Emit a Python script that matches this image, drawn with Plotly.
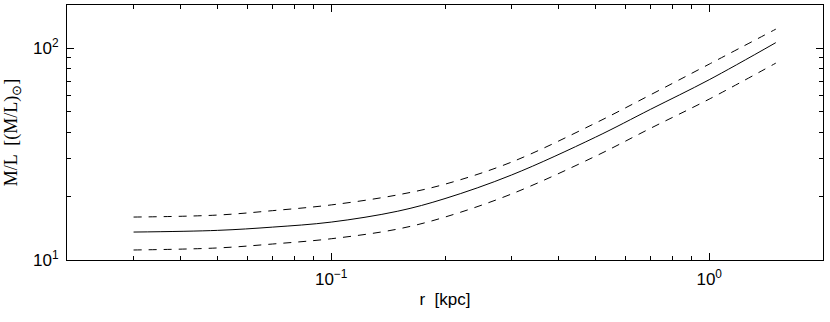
import plotly.graph_objects as go

# radius in kpc and M/L profile
r_kpc = [0.03, 0.05, 0.07, 0.1, 0.15, 0.2, 0.3, 0.5, 0.7, 1.0, 1.5]
ml_mid = [13.55, 13.8, 14.3, 15.1, 17.0, 19.5, 25.2, 38.0, 51.5, 71.0, 106.2]
ml_upper = [15.95, 16.3, 17.1, 18.2, 20.3, 22.8, 29.0, 44.3, 60.3, 84.1, 123.0]
ml_lower = [11.15, 11.4, 11.9, 12.6, 14.0, 15.95, 20.5, 30.9, 41.9, 57.5, 85.0]

x_tickvals = [0.1, 1]
x_ticktext = ["10<sup>−1</sup>", "10<sup>0</sup>"]
y_tickvals = [10, 100]
y_ticktext = ["10<sup>1</sup>", "10<sup>2</sup>"]
x_minor = [0.02, 0.03, 0.04, 0.05, 0.06, 0.07, 0.08, 0.09, 0.2, 0.3, 0.4, 0.5, 0.6,
           0.7, 0.8, 0.9, 2]
y_minor = [20, 30, 40, 50, 60, 70, 80, 90]

fig = go.Figure()
fig.add_trace(go.Scatter(x=r_kpc, y=ml_upper, mode="lines", line_shape="spline",
                         line=dict(color="black", width=1, dash="8px,7px")))
fig.add_trace(go.Scatter(x=r_kpc, y=ml_mid, mode="lines", line_shape="spline",
                         line=dict(color="black", width=1)))
fig.add_trace(go.Scatter(x=r_kpc, y=ml_lower, mode="lines", line_shape="spline",
                         line=dict(color="black", width=1, dash="8px,7px")))

font_ticks = dict(family="Liberation Sans", size=17, color="black")
base = dict(showgrid=False, zeroline=False, automargin=False, showline=True,
            linecolor="black", linewidth=1, mirror="allticks",
            ticks="inside", ticklen=7, tickwidth=1, tickcolor="black",
            tickfont=font_ticks, ticklabelstandoff=4)

fig.update_layout(
    width=830, height=322,
    margin=dict(l=67, r=7, t=5, b=62),
    plot_bgcolor="white", paper_bgcolor="white",
    showlegend=False,
    xaxis=dict(type="log", range=[-1.699, 0.301], tickvals=x_tickvals, ticktext=x_ticktext,
               minor=dict(tickvals=x_minor, ticks="inside", ticklen=4, tickwidth=1,
                          tickcolor="black", showgrid=False),
               title=dict(text="r  [kpc]", standoff=4,
                          font=dict(family="Liberation Sans", size=17, color="black")),
               **base),
    yaxis=dict(type="log", range=[1, 2.204], tickvals=y_tickvals, ticktext=y_ticktext,
               minor=dict(tickvals=y_minor, ticks="inside", ticklen=4, tickwidth=1,
                          tickcolor="black", showgrid=False),
               title=dict(text="M/L  [(M/L)<sub>⊙</sub>]", standoff=10,
                          font=dict(family="Liberation Serif", size=18, color="black")),
               **base),
)

fig.write_html("out.html", config={"displayModeBar": False},
               post_script="document.body.style.margin='0';")
